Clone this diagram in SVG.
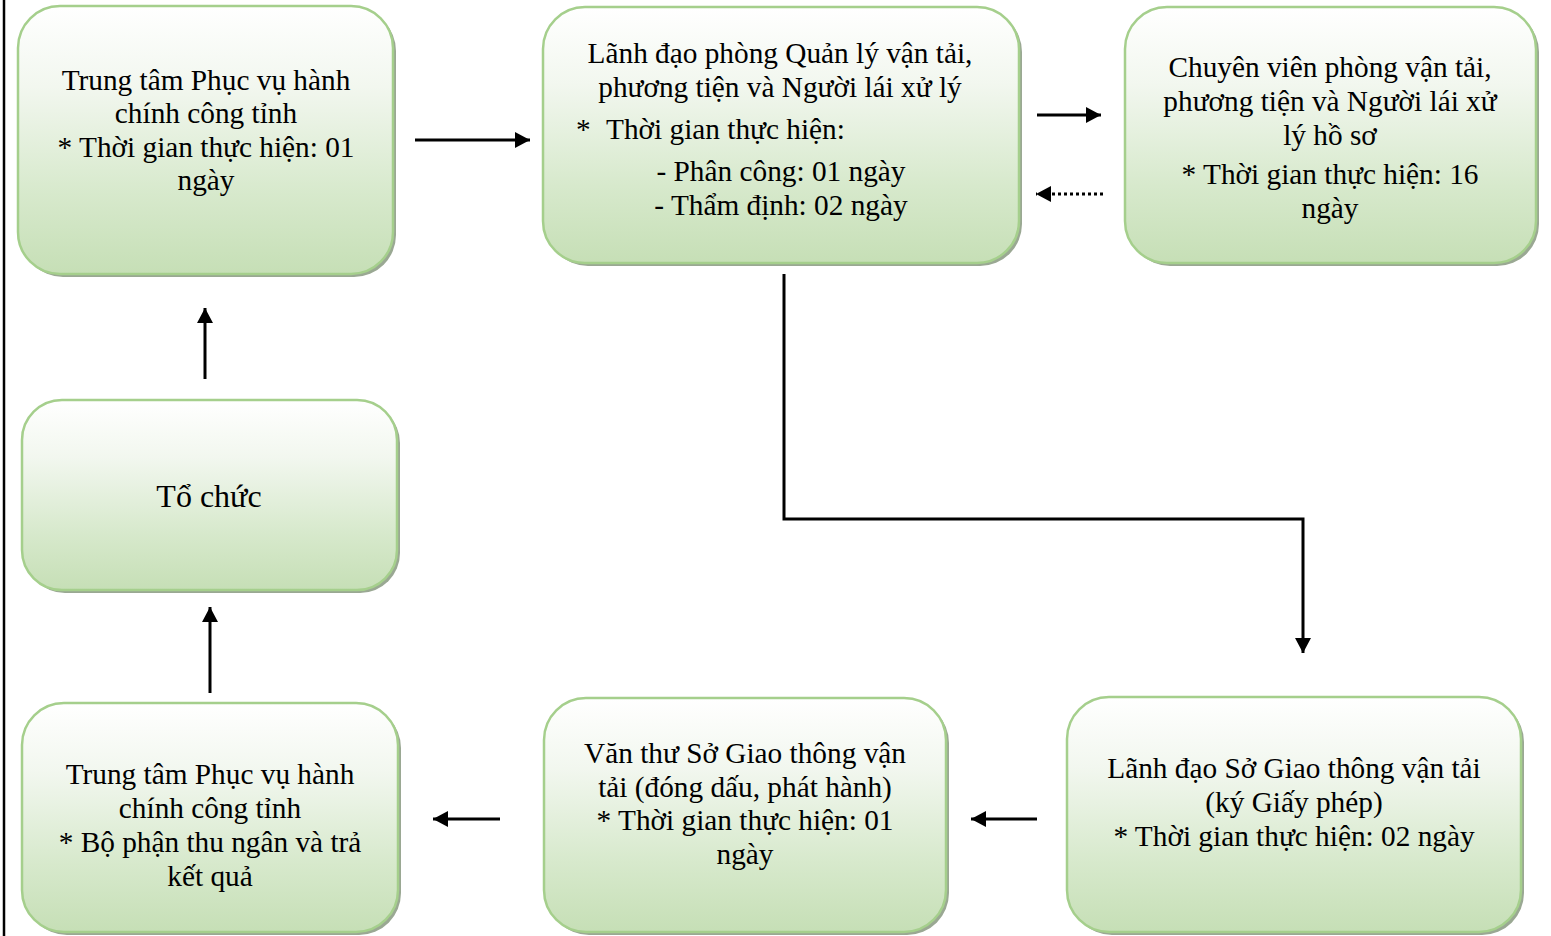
<svg xmlns="http://www.w3.org/2000/svg" width="1551" height="936" viewBox="0 0 1551 936">
<style>
.box{fill:url(#g);stroke:#a5cf8c;stroke-width:2.5}
.sh{fill:#9aa893}
.t{font-family:"Liberation Serif","Times New Roman",serif;font-size:29.3px;fill:#000;text-anchor:middle}
.c{stroke:#000;stroke-width:3;fill:none}
</style>
<defs>
<linearGradient id="g" x1="0" y1="0" x2="0" y2="1">
<stop offset="0" stop-color="#ffffff"/>
<stop offset="0.3" stop-color="#f2f7ef"/>
<stop offset="0.7" stop-color="#d7e9cc"/>
<stop offset="1" stop-color="#c6dfb6"/>
</linearGradient>
<marker id="ah" markerUnits="userSpaceOnUse" markerWidth="16" markerHeight="16" refX="15" refY="8" orient="auto">
<path d="M0,0 L15,8 L0,16 z" fill="#000"/>
</marker>
</defs>
<line x1="4" y1="0" x2="4" y2="936" stroke="#000" stroke-width="2.5"/>
<g id="n1">
<rect class="sh" x="21" y="9" width="375" height="268" rx="42"/>
<rect class="box" x="18" y="6" width="375" height="268" rx="42"/>
<text class="t" x="206" y="90">Trung tâm Phục vụ hành</text>
<text class="t" x="206" y="123">chính công tỉnh</text>
<text class="t" x="206" y="157">* Thời gian thực hiện: 01</text>
<text class="t" x="206" y="190">ngày</text>
</g>
<g id="n2">
<rect class="sh" x="546" y="10" width="476" height="256" rx="42"/>
<rect class="box" x="543" y="7" width="476" height="256" rx="42"/>
<text class="t" x="780" y="63">Lãnh đạo phòng Quản lý vận tải,</text>
<text class="t" x="780" y="97">phương tiện và Người lái xử lý</text>
<text class="t" y="139" style="text-anchor:start"><tspan x="576">*</tspan><tspan x="606">Thời gian thực hiện:</tspan></text>
<text class="t" x="781" y="181">- Phân công: 01 ngày</text>
<text class="t" x="781" y="215">- Thẩm định: 02 ngày</text>
</g>
<g id="n3">
<rect class="sh" x="1128" y="10" width="411" height="256" rx="42"/>
<rect class="box" x="1125" y="7" width="411" height="256" rx="42"/>
<text class="t" x="1330" y="77">Chuyên viên phòng vận tải,</text>
<text class="t" x="1330" y="111">phương tiện và Người lái xử</text>
<text class="t" x="1330" y="145">lý hồ sơ</text>
<text class="t" x="1330" y="184">* Thời gian thực hiện: 16</text>
<text class="t" x="1330" y="218">ngày</text>
</g>
<g id="n4">
<rect class="sh" x="25" y="403" width="375" height="190" rx="40"/>
<rect class="box" x="22" y="400" width="375" height="190" rx="40"/>
<text class="t" x="209" y="507" style="font-size:32px">Tổ chức</text>
</g>
<g id="n5">
<rect class="sh" x="25" y="706" width="376" height="229" rx="42"/>
<rect class="box" x="22" y="703" width="376" height="229" rx="42"/>
<text class="t" x="210" y="784">Trung tâm Phục vụ hành</text>
<text class="t" x="210" y="818">chính công tỉnh</text>
<text class="t" x="210" y="852">* Bộ phận thu ngân và trả</text>
<text class="t" x="210" y="886">kết quả</text>
</g>
<g id="n6">
<rect class="sh" x="547" y="701" width="402" height="234" rx="42"/>
<rect class="box" x="544" y="698" width="402" height="234" rx="42"/>
<text class="t" x="745" y="763">Văn thư Sở Giao thông vận</text>
<text class="t" x="745" y="797">tải (đóng dấu, phát hành)</text>
<text class="t" x="745" y="830">* Thời gian thực hiện: 01</text>
<text class="t" x="745" y="864">ngày</text>
</g>
<g id="n7">
<rect class="sh" x="1070" y="700" width="454" height="235" rx="42"/>
<rect class="box" x="1067" y="697" width="454" height="235" rx="42"/>
<text class="t" x="1294" y="778">Lãnh đạo Sở Giao thông vận tải</text>
<text class="t" x="1294" y="812">(ký Giấy phép)</text>
<text class="t" x="1294" y="846">* Thời gian thực hiện: 02 ngày</text>
</g>
<g id="connectors">
<line class="c" x1="415" y1="140" x2="530" y2="140" marker-end="url(#ah)"/>
<line class="c" x1="1037" y1="115" x2="1101" y2="115" marker-end="url(#ah)"/>
<line class="c" x1="1103" y1="194" x2="1036" y2="194" stroke-dasharray="3 3" marker-end="url(#ah)"/>
<polyline class="c" points="784,274 784,519 1303,519 1303,653" marker-end="url(#ah)"/>
<line class="c" x1="1037" y1="819" x2="971" y2="819" marker-end="url(#ah)"/>
<line class="c" x1="500" y1="819" x2="433" y2="819" marker-end="url(#ah)"/>
<line class="c" x1="210" y1="693" x2="210" y2="607" marker-end="url(#ah)"/>
<line class="c" x1="205" y1="379" x2="205" y2="308" marker-end="url(#ah)"/>
</g>
</svg>
